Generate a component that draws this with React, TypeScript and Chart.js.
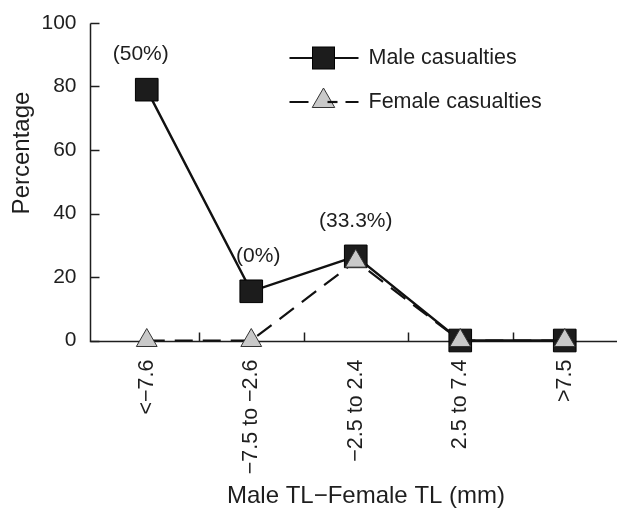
import React, { useEffect, useRef } from "react";
import { Chart, registerables } from "chart.js";

Chart.register(...registerables);

const categories = ["<\u22127.6", "\u22127.5 to \u22122.6", "\u22122.5 to 2.4", "2.5 to 7.4", ">7.5"];
const maleValues = [79, 15.5, 26.5, 0, 0];
const femaleValues = [0, 0, 25, 0, 0];
const maleAnnotations = ["(50%)", "(0%)", "(33.3%)", "", ""];
const yTicks = [0, 20, 40, 60, 80, 100];
const seriesNames = ["Male casualties", "Female casualties"];
const xTitle = "Male TL\u2212Female TL (mm)";
const yTitle = "Percentage";

const FONT = "'Liberation Sans', Arial, Helvetica, sans-serif";
const INK = "#1e1e1e";
const MALE_FILL = "#1c1c1c";
const FEMALE_FILL = "#c9c9c9";
const AXIS_X = 90.5;
const ANNOT_DX = [-6, 7, 0, 0, 0];

function drawSquare(ctx: CanvasRenderingContext2D, x: number, y: number, side: number) {
  ctx.save();
  ctx.fillStyle = MALE_FILL;
  ctx.strokeStyle = "#000";
  ctx.lineWidth = 1;
  ctx.fillRect(x - side / 2, y - side / 2, side, side);
  ctx.strokeRect(x - side / 2, y - side / 2, side, side);
  ctx.restore();
}

function drawTriangle(ctx: CanvasRenderingContext2D, x: number, y: number, r: number) {
  ctx.save();
  ctx.fillStyle = FEMALE_FILL;
  ctx.strokeStyle = "#333";
  ctx.lineWidth = 1;
  ctx.beginPath();
  ctx.moveTo(x, y - r);
  ctx.lineTo(x + r * 0.866, y + r * 0.5);
  ctx.lineTo(x - r * 0.866, y + r * 0.5);
  ctx.closePath();
  ctx.fill();
  ctx.stroke();
  ctx.restore();
}

const axesPlugin = {
  id: "axesLines",
  beforeDatasetsDraw(chart: any) {
    const { ctx, chartArea } = chart;
    const xs = chart.scales.x;
    const ys = chart.scales.y;
    const bottom = Math.round(ys.getPixelForValue(0)) + 0.5;
    const top = Math.round(ys.getPixelForValue(100)) + 0.5;
    ctx.save();
    ctx.strokeStyle = INK;
    ctx.lineWidth = 1.5;
    ctx.beginPath();
    ctx.moveTo(AXIS_X, top);
    ctx.lineTo(AXIS_X, bottom);
    ctx.lineTo(chartArea.right, bottom);
    ctx.stroke();
    yTicks.forEach((v) => {
      const py = Math.round(ys.getPixelForValue(v)) + 0.5;
      ctx.beginPath();
      ctx.moveTo(AXIS_X, py);
      ctx.lineTo(AXIS_X + 9, py);
      ctx.stroke();
    });
    for (let i = 1; i < categories.length; i++) {
      const px = Math.round((xs.getPixelForTick(i - 1) + xs.getPixelForTick(i)) / 2) + 0.5;
      ctx.beginPath();
      ctx.moveTo(px, bottom);
      ctx.lineTo(px, bottom - 9);
      ctx.stroke();
    }
    ctx.restore();
  },
};

const decorPlugin = {
  id: "decor",
  afterDraw(chart: any) {
    const { ctx, chartArea } = chart;
    ctx.save();
    // annotations above male points
    ctx.fillStyle = INK;
    ctx.font = `21px ${FONT}`;
    ctx.textAlign = "center";
    ctx.textBaseline = "middle";
    const meta = chart.getDatasetMeta(1);
    maleAnnotations.forEach((t, i) => {
      if (!t) return;
      const pt = meta.data[i];
      ctx.fillText(t, pt.x + ANNOT_DX[i], pt.y - 35);
    });
    // legend
    const lx = AXIS_X + 199;
    const ly1 = chartArea.top + 35;
    const ly2 = chartArea.top + 79;
    ctx.strokeStyle = "#111";
    ctx.lineWidth = 2.2;
    ctx.beginPath();
    ctx.moveTo(lx, ly1);
    ctx.lineTo(lx + 69, ly1);
    ctx.stroke();
    drawSquare(ctx, lx + 34, ly1, 22);
    ctx.beginPath();
    ctx.moveTo(lx, ly2);
    ctx.lineTo(lx + 19, ly2);
    ctx.moveTo(lx + 56, ly2);
    ctx.lineTo(lx + 69, ly2);
    ctx.stroke();
    drawTriangle(ctx, lx + 34, ly2 - 1, 13);
    ctx.beginPath();
    ctx.moveTo(lx + 38, ly2);
    ctx.lineTo(lx + 48, ly2);
    ctx.stroke();
    ctx.fillStyle = INK;
    ctx.font = `21.5px ${FONT}`;
    ctx.textAlign = "left";
    ctx.fillText(seriesNames[0], lx + 79, ly1);
    ctx.fillText(seriesNames[1], lx + 79, ly2);
    // axis titles
    ctx.font = `24px ${FONT}`;
    ctx.textAlign = "center";
    ctx.fillText(xTitle, 366, 496);
    ctx.save();
    ctx.translate(22, 153);
    ctx.rotate(-Math.PI / 2);
    ctx.fillText(yTitle, 0, 0);
    ctx.restore();
    ctx.restore();
  },
};

export default function App() {
  const ref = useRef<HTMLCanvasElement | null>(null);
  useEffect(() => {
    if (!ref.current) return;
    const chart = new Chart(ref.current, {
      type: "line",
      data: {
        labels: categories,
        datasets: [
          {
            label: seriesNames[1],
            data: femaleValues,
            order: 0,
            clip: false,
            borderColor: "#111",
            borderWidth: 2.2,
            borderDash: [18, 10],
            backgroundColor: FEMALE_FILL,
            pointStyle: "triangle",
            pointRadius: 12,
            pointBorderColor: "#333",
            pointBorderWidth: 1,
            pointBackgroundColor: FEMALE_FILL,
            tension: 0,
          },
          {
            label: seriesNames[0],
            data: maleValues,
            order: 1,
            clip: false,
            borderColor: "#111",
            borderWidth: 2.4,
            backgroundColor: MALE_FILL,
            pointStyle: "rect",
            pointRadius: 16,
            pointBorderColor: "#000",
            pointBorderWidth: 1,
            pointBackgroundColor: MALE_FILL,
            tension: 0,
          },
        ],
      },
      options: {
        responsive: false,
        animation: false,
        layout: { autoPadding: false, padding: { top: 23, right: -3, left: 0, bottom: 0 } },
        plugins: { legend: { display: false }, tooltip: { enabled: false } },
        scales: {
          x: {
            type: "category",
            offset: true,
            grid: { display: false, drawTicks: false },
            border: { display: false },
            ticks: {
              color: INK,
              font: { family: FONT, size: 21.5 },
              minRotation: 90,
              maxRotation: 90,
              autoSkip: false,
              padding: 19,
            },
            afterFit: (s: any) => {
              s.height = 168.5;
              s.paddingLeft = 0;
              s.paddingRight = 0;
              s.paddingTop = 0;
              s.paddingBottom = 0;
            },
          },
          y: {
            min: 0,
            max: 100,
            grid: { display: false, drawTicks: false },
            border: { display: false },
            ticks: {
              color: INK,
              stepSize: 20,
              font: { family: FONT, size: 21 },
              padding: 18,
            },
            afterFit: (s: any) => {
              s.width = 94.5;
              s.paddingTop = 0;
              s.paddingBottom = 0;
              s.paddingLeft = 0;
              s.paddingRight = 0;
            },
          },
        },
      },
      plugins: [axesPlugin, decorPlugin],
    });
    return () => chart.destroy();
  }, []);
  return (
    <div style={{ position: "absolute", left: 0, top: 0, width: 617, height: 509, background: "#fff" }}>
      <canvas ref={ref} width={617} height={509} />
    </div>
  );
}
